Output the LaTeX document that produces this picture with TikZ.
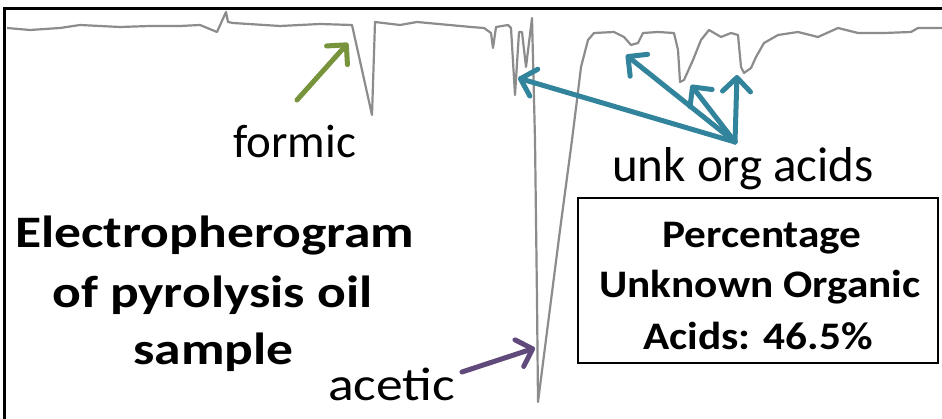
\documentclass[tikz,border=0pt]{standalone}
\usepackage{fontspec}
\setmainfont{Carlito}
\usetikzlibrary{arrows.meta}
\definecolor{tealc}{HTML}{31849B}
\definecolor{greenc}{HTML}{77933C}
\definecolor{purplec}{HTML}{604A7B}
\definecolor{tracec}{HTML}{8C8C8C}
\tikzset{
  lbl/.style={inner sep=0pt, anchor=base west, font=\fontsize{47}{47}\selectfont},
  ttl/.style={inner sep=0pt, anchor=base west, font=\fontsize{45}{45}\selectfont\bfseries},
  boxt/.style={inner sep=0pt, anchor=base, font=\fontsize{39}{39}\selectfont\bfseries},
  arr/.style={line width=5pt, -{Straight Barb[length=14pt,width=28pt,line cap=round,line join=round]}, line cap=round},
  trace/.style={tracec, line width=2.2pt, line join=round}
}
\newcommand{\ttlx}[1]{\scalebox{1.19}[1]{#1}}
\newcommand{\boxx}[1]{\scalebox{1.11}[1]{#1}}
\begin{document}
\begin{tikzpicture}[x=1pt,y=-1pt]
\useasboundingbox (0,0) rectangle (942,419);
\fill[white] (0,0) rectangle (942,419);
% trace
\draw[trace] (7,28) -- (30,30) -- (60,28) -- (80,25) -- (120,27) -- (150,26) -- (180,26) -- (200,25) -- (217,32) -- (226,12) -- (228,22) -- (233,23) -- (280,26) -- (320,24) -- (352,25) -- (372,115) -- (375,22) -- (400,25) -- (417,22) -- (471,27) -- (484,28) -- (491,33) -- (493,48) -- (496,27) -- (508,25) -- (511,28) -- (515,95) -- (519,32) -- (522,32) -- (526,67) -- (532,18) -- (535,140) -- (537,300) -- (538,402) -- (560,230) -- (572,140) -- (577,100) -- (581,67) -- (588,40) -- (594,33) -- (614,32) -- (624,37) -- (631,45) -- (638,43) -- (643,33) -- (658,32) -- (674,33) -- (678,50) -- (680,82) -- (684,80) -- (693,60) -- (701,40) -- (709,30) -- (721,37) -- (731,33) -- (738,35) -- (741,67) -- (744,73) -- (751,68) -- (756,57) -- (764,43) -- (778,35) -- (798,32) -- (818,37) -- (838,28) -- (858,33) -- (884,33) -- (911,32) -- (918,28) -- (942,28);
% frame
\draw[line width=3pt] (4,420) -- (4,9) -- (945,9);
% labels
\node[lbl] (formic) at (233,158) {formic};
\node[lbl, font=\fontsize{49}{49}\selectfont] (unk) at (612,182) {unk org acids};
\node[lbl] (acetic) at (328,400) {\scalebox{1.14}[1]{acetic}};
\node[ttl] (t1) at (15,248) {\ttlx{Electropherogram}};
\node[ttl] (t2) at (52,308) {\ttlx{of pyrolysis oil}};
\node[ttl] (t3) at (133,365) {\ttlx{sample}};
% box
\draw[line width=2pt] (578,198) rectangle (938,363);
\node[boxt] (b1) at (762,248) {\boxx{Percentage}};
\node[boxt] (b2) at (760,298) {\boxx{Unknown Organic}};
\node[boxt] (b3) at (758,350) {\boxx{Acids: 46.5\%}};
% arrows
\coordinate (g0) at (297,100);
\coordinate (g1) at (348,43);
\coordinate (p0) at (462,372);
\coordinate (p1) at (535,348);
\coordinate (c0) at (735,142);
\coordinate (c1) at (518,78);
\coordinate (c2) at (626,55);
\coordinate (c3) at (691,85);
\coordinate (c4) at (737,75);
\draw[arr, greenc] (g0) -- (g1);
\draw[arr, purplec] (p0) -- (p1);
\draw[arr, tealc] (c0) -- (c1);
\draw[arr, tealc] (c0) -- (c2);
\draw[arr, tealc] (c0) -- (c3);
\draw[arr, tealc] (c0) -- (c4);
\end{tikzpicture}
\end{document}
